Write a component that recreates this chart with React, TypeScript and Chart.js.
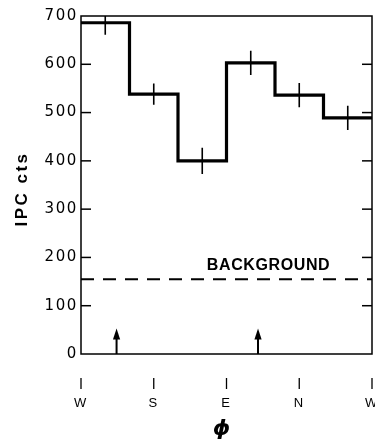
import React, { useEffect, useRef } from "react";
import { Chart, registerables } from "chart.js";

Chart.register(...registerables);

// ---- data ----
const phiEdges = [0, 60, 120, 180, 240, 300, 360];
const counts = [686, 538, 400, 603, 536, 489];
const countErrors = [25, 22, 27, 25, 25, 25];
const backgroundLevel = 155;
const backgroundLabel = "BACKGROUND";
const backgroundLabelPos = [232, 183];
const arrowPhi = [44, 219];
const arrowTip = 53;
const dirPhi = [0, 90, 180, 270, 360];
const dirLabels = ["W", "S", "E", "N", "W"];
const yTicks = [0, 100, 200, 300, 400, 500, 600, 700];
const yTitle = "IPC cts";
const xTitle = "\u03D5";

const INK = "#000";

const decor = {
  id: "decor",
  beforeDraw(chart: any) {
    chart.ctx.letterSpacing = "1.6px";
  },
  afterDraw(chart: any) {
    const { ctx, chartArea: a, scales } = chart;
    const x = scales.x;
    const y = scales.y;
    ctx.save();
    ctx.strokeStyle = INK;
    ctx.fillStyle = INK;
    const line = (x1: number, y1: number, x2: number, y2: number, w = 1.5) => {
      ctx.lineWidth = w;
      ctx.beginPath();
      ctx.moveTo(x1, y1);
      ctx.lineTo(x2, y2);
      ctx.stroke();
    };
    // frame
    ctx.lineWidth = 1.5;
    ctx.strokeRect(a.left, a.top, a.right - a.left, a.bottom - a.top);
    // inward ticks
    yTicks.forEach((v) => {
      if (v <= 0 || v >= 700) return;
      const py = y.getPixelForValue(v);
      line(a.left, py, a.left + 10, py);
      line(a.right - 10, py, a.right, py);
    });
    // detached x ticks
    dirPhi.forEach((v) => {
      const px = x.getPixelForValue(v);
      line(px, a.bottom + 24, px, a.bottom + 35, 1.3);
    });
    // arrows
    arrowPhi.forEach((v) => {
      const px = x.getPixelForValue(v);
      const p0 = y.getPixelForValue(0);
      const pt = y.getPixelForValue(arrowTip);
      line(px, p0, px, pt + 8, 2);
      ctx.beginPath();
      ctx.moveTo(px, pt);
      ctx.lineTo(px - 3.6, pt + 11);
      ctx.lineTo(px + 3.6, pt + 11);
      ctx.closePath();
      ctx.fill();
    });
    // background label
    ctx.letterSpacing = "0.6px";
    ctx.font = 'bold 16px "Liberation Sans"';
    ctx.textAlign = "center";
    ctx.textBaseline = "middle";
    ctx.fillText(
      backgroundLabel,
      x.getPixelForValue(backgroundLabelPos[0]),
      y.getPixelForValue(backgroundLabelPos[1])
    );
    // x title
    ctx.letterSpacing = "0px";
    ctx.font = 'bold italic 22px "DejaVu Sans"';
    ctx.textBaseline = "alphabetic";
    ctx.fillText(xTitle, (a.left + a.right) / 2 - 5, 435);
    // y title
    ctx.translate(27, (a.top + a.bottom) / 2 + 4);
    ctx.rotate(-Math.PI / 2);
    ctx.letterSpacing = "2.5px";
    ctx.font = 'bold 17px "Liberation Sans"';
    ctx.textAlign = "center";
    ctx.fillText(yTitle, 0, 0);
    ctx.restore();
  },
};

export default function App() {
  const ref = useRef<HTMLCanvasElement | null>(null);
  useEffect(() => {
    if (!ref.current) return;
    const stepData = phiEdges.map((e, i) => ({
      x: e,
      y: counts[Math.min(i, counts.length - 1)],
    }));
    const errData: any[] = [];
    counts.forEach((c, i) => {
      const mid = (phiEdges[i] + phiEdges[i + 1]) / 2;
      errData.push({ x: mid, y: c - countErrors[i] });
      errData.push({ x: mid, y: c + countErrors[i] });
      errData.push({ x: mid, y: null });
    });
    const bgData = [
      { x: phiEdges[0], y: backgroundLevel },
      { x: phiEdges[phiEdges.length - 1], y: backgroundLevel },
    ];
    const chart = new Chart(ref.current, {
      type: "line",
      data: {
        datasets: [
          {
            data: stepData,
            stepped: "before",
            borderColor: INK,
            borderWidth: 3.2,
            pointRadius: 0,
            fill: false,
          },
          {
            data: errData,
            borderColor: INK,
            borderWidth: 1.6,
            pointRadius: 0,
            spanGaps: false,
          },
          {
            data: bgData,
            borderColor: INK,
            borderWidth: 2,
            borderDash: [13, 9],
            pointRadius: 0,
          },
        ],
      } as any,
      options: {
        animation: false,
        responsive: false,
        maintainAspectRatio: false,
        layout: { padding: { top: 16, right: 3, left: 0, bottom: 0 } },
        plugins: {
          legend: { display: false },
          tooltip: { enabled: false },
        },
        scales: {
          x: {
            type: "linear",
            min: 0,
            max: 360,
            afterBuildTicks: (s: any) => {
              s.ticks = dirPhi.map((v) => ({ value: v }));
            },
            afterFit: (s: any) => {
              s.height = 86;
              s.paddingLeft = 0;
              s.paddingRight = 0;
            },
            grid: { display: false, drawTicks: false },
            border: { display: false },
            ticks: {
              padding: 42,
              maxRotation: 0,
              autoSkip: false,
              color: INK,
              font: { family: "Liberation Sans", size: 13 },
              callback: (_v: any, i: number) => dirLabels[i],
            },
          },
          y: {
            type: "linear",
            min: 0,
            max: 700,
            afterBuildTicks: (s: any) => {
              s.ticks = yTicks.map((v) => ({ value: v }));
            },
            afterFit: (s: any) => {
              s.width = 81;
              s.paddingTop = 0;
              s.paddingBottom = 0;
            },
            grid: { display: false, drawTicks: false },
            border: { display: false },
            ticks: {
              padding: 3,
              color: INK,
              font: { family: "DejaVu Sans", size: 15 },
            },
          },
        },
      } as any,
      plugins: [decor],
    });
    return () => chart.destroy();
  }, []);
  return (
    <div style={{ position: "absolute", left: 0, top: 0, width: 375, height: 440, background: "#fff" }}>
      <canvas ref={ref} width={375} height={440} style={{ display: "block" }} />
    </div>
  );
}
